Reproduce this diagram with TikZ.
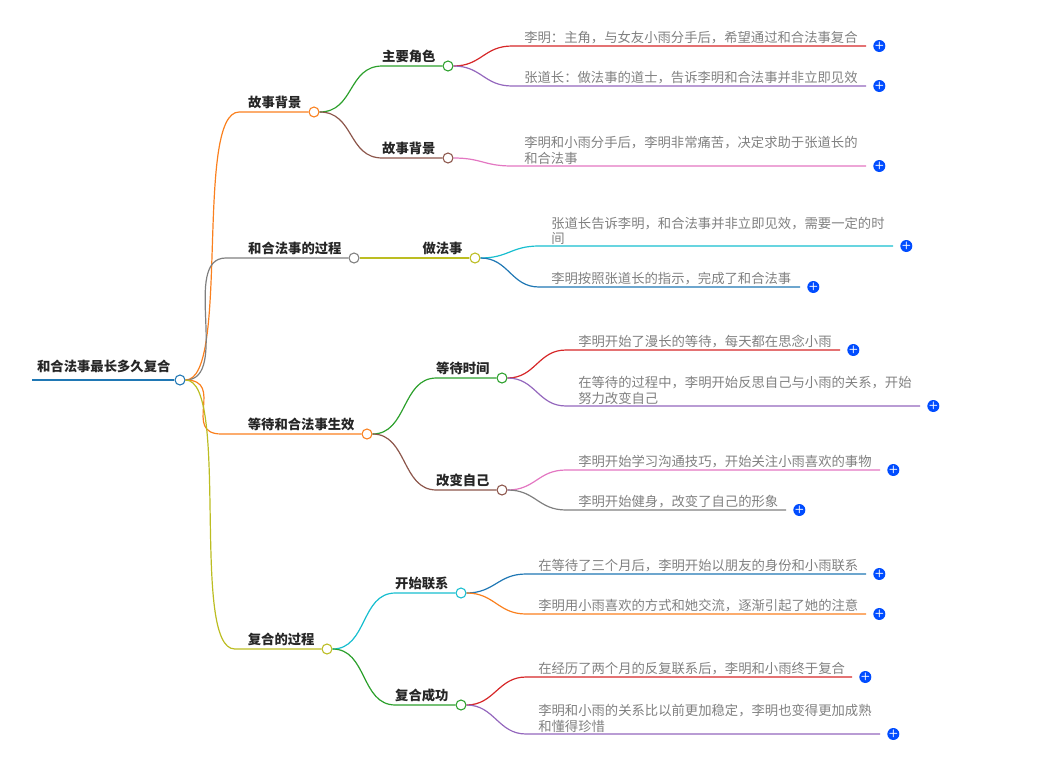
\documentclass[tikz,border=0pt]{standalone}
\usepackage{fontspec}
\newfontfamily\cjk{Noto Sans CJK SC}
\usetikzlibrary{positioning}
\tikzset{
  dot/.style={circle,draw=#1,fill=white,line width=0.8pt,inner sep=0pt,minimum size=7.5pt},
  branchtext/.style={font=\cjk\fontsize{10}{11}\selectfont\bfseries,text=black!85,anchor=south east,inner sep=1pt},
  leaftext/.style={font=\cjk\fontsize{10}{11.5}\selectfont,text=black!50,anchor=south west,align=left,inner sep=1pt},
  plus/.style={circle,fill=blue!70!cyan,text=white,inner sep=0pt,minimum size=9pt,font=\sffamily\bfseries\fontsize{8}{8}\selectfont},
  edge/.style={line width=0.9pt,#1},
}
\definecolor{corange}{RGB}{250,128,30}
\definecolor{cgreen}{RGB}{44,160,44}
\definecolor{cbrown}{RGB}{140,86,75}
\definecolor{cgray}{RGB}{127,127,127}
\definecolor{colive}{RGB}{188,189,34}
\definecolor{ccyan}{RGB}{23,190,207}
\definecolor{cblue}{RGB}{31,119,180}
\definecolor{cred}{RGB}{214,39,40}
\definecolor{cpurple}{RGB}{148,103,189}
\definecolor{cpink}{RGB}{227,119,194}
% branch: parent, child, colour, straight part, control length
\newcommand{\branch}[5]{
  \draw[edge=#3] (#1.east) .. controls +(#5,0) and +(-#5,0) .. ([xshift=-#4]#2.west) -- (#2.west);
}
% leaf: parent, colour, start x, y, end x, text, name
\newcommand{\leaf}[7]{
  \coordinate (#7s) at (#3,#4);
  \coordinate (#7e) at (#5,#4);
  \draw[edge=#2] (#1.east) .. controls +(28,0) and +(-28,0) .. (#7s) -- (#7e);
  \node[leaftext] at ([xshift=8]#7s) {#6};
  \node[plus] (#7p) at ([xshift=10]#7e) {+};
}
\begin{document}
\begin{tikzpicture}[x=0.75pt,y=-0.75pt]
\useasboundingbox (0,0) rectangle (1060,757);
% root
\node[dot=cblue] (root) at (180,380) {};
\coordinate (rootl) at (32,380);
\draw[cblue,line width=2pt] (rootl) -- (root.west);
\node[branchtext] at ([xshift=-3,yshift=1]root.north west) {和合法事最长多久复合};
% level one
\node[dot=corange] (bg) at (314,112) {};
\node[dot=cgray] (proc) at (354,258) {};
\node[dot=corange] (wait) at (367,434) {};
\node[dot=colive] (rec) at (327,649) {};
\branch{root}{bg}{corange}{52}{45}
\branch{root}{proc}{cgray}{92}{45}
\branch{root}{wait}{corange}{105}{40}
\branch{root}{rec}{colive}{65}{45}
\node[branchtext] at ([xshift=-4,yshift=1]bg.west) {故事背景};
\node[branchtext] at ([xshift=-4,yshift=1]proc.west) {和合法事的过程};
\node[branchtext] at ([xshift=-4,yshift=1]wait.west) {等待和合法事生效};
\node[branchtext] at ([xshift=-4,yshift=1]rec.west) {复合的过程};
% level two
\node[dot=cgreen] (role) at (448,66) {};
\node[dot=cbrown] (story) at (448,158) {};
\node[dot=colive] (rite) at (475,258) {};
\node[dot=cgreen] (time) at (502,378) {};
\node[dot=cbrown] (self) at (502,490) {};
\node[dot=ccyan] (call) at (461,593) {};
\node[dot=cgreen] (done) at (461,705) {};
\branch{bg}{role}{cgreen}{45}{35}
\branch{bg}{story}{cbrown}{45}{35}
\draw[edge=colive] (proc.east) -- (rite.west);
\branch{wait}{time}{cgreen}{45}{35}
\branch{wait}{self}{cbrown}{45}{35}
\branch{rec}{call}{ccyan}{45}{35}
\branch{rec}{done}{cgreen}{45}{35}
\node[branchtext] at ([xshift=-4,yshift=1]role.west) {主要角色};
\node[branchtext] at ([xshift=-4,yshift=1]story.west) {故事背景};
\node[branchtext] at ([xshift=-4,yshift=1]rite.west) {做法事};
\node[branchtext] at ([xshift=-4,yshift=1]time.west) {等待时间};
\node[branchtext] at ([xshift=-4,yshift=1]self.west) {改变自己};
\node[branchtext] at ([xshift=-4,yshift=1]call.west) {开始联系};
\node[branchtext] at ([xshift=-4,yshift=1]done.west) {复合成功};
% leaves
\leaf{role}{cred}{512}{46}{866}{李明：主角，与女友小雨分手后，希望通过和合法事复合}{la}
\leaf{role}{cpurple}{512}{86}{866}{张道长：做法事的道士，告诉李明和合法事并非立即见效}{lb}
\leaf{story}{cpink}{512}{166}{866}{李明和小雨分手后，李明非常痛苦，决定求助于张道长的\\和合法事}{lc}
\leaf{rite}{ccyan}{539}{246}{893}{张道长告诉李明，和合法事并非立即见效，需要一定的时\\间}{ld}
\leaf{rite}{cblue}{539}{287}{800}{李明按照张道长的指示，完成了和合法事}{le}
\leaf{time}{cred}{566}{350}{840}{李明开始了漫长的等待，每天都在思念小雨}{lf}
\leaf{time}{cpurple}{566}{406}{920}{在等待的过程中，李明开始反思自己与小雨的关系，开始\\努力改变自己}{lg}
\leaf{self}{cpink}{566}{470}{880}{李明开始学习沟通技巧，开始关注小雨喜欢的事物}{lh}
\leaf{self}{cgray}{566}{510}{786}{李明开始健身，改变了自己的形象}{li}
\leaf{call}{cblue}{526}{574}{866}{在等待了三个月后，李明开始以朋友的身份和小雨联系}{lj}
\leaf{call}{corange}{526}{614}{866}{李明用小雨喜欢的方式和她交流，逐渐引起了她的注意}{lk}
\leaf{done}{cred}{526}{677}{852}{在经历了两个月的反复联系后，李明和小雨终于复合}{ll}
\leaf{done}{cpurple}{526}{734}{880}{李明和小雨的关系比以前更加稳定，李明也变得更加成熟\\和懂得珍惜}{lm}
\end{tikzpicture}
\end{document}
